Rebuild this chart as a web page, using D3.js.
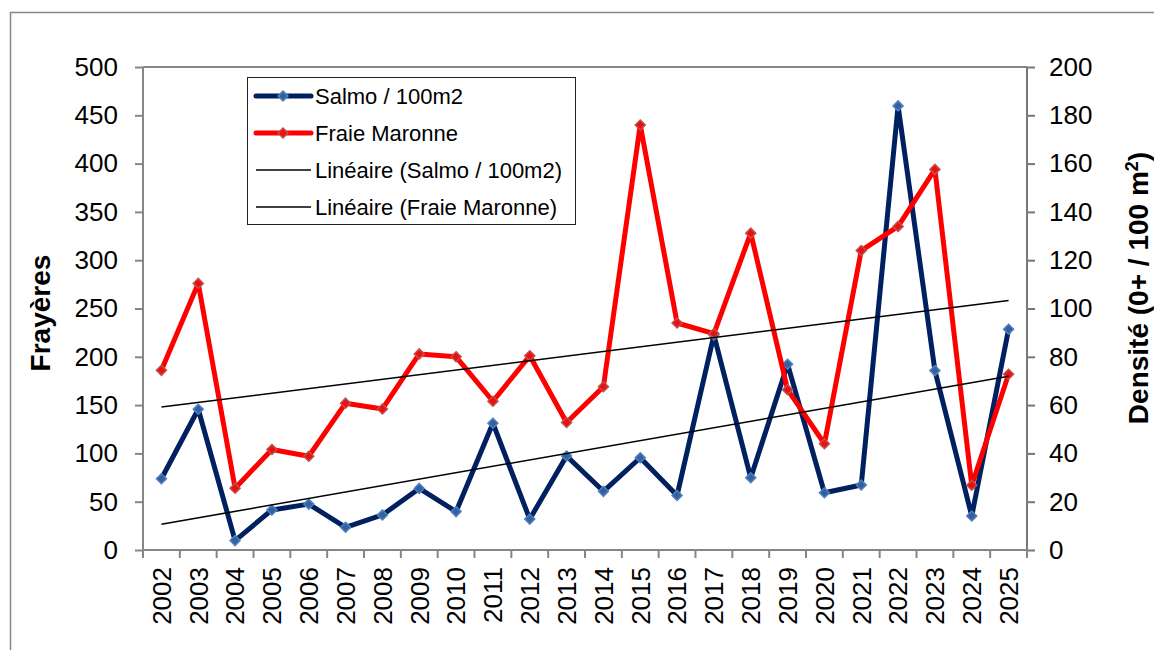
<!DOCTYPE html>
<html>
<head>
<meta charset="utf-8">
<script src="https://cdn.jsdelivr.net/npm/d3@7"></script>
<style>
  body { margin: 0; background: #fff; }
  svg { display: block; font-family: "Liberation Sans", Arial, sans-serif; }
</style>
</head>
<body>
<script>
const years = ["2002","2003","2004","2005","2006","2007","2008","2009","2010","2011","2012","2013",
               "2014","2015","2016","2017","2018","2019","2020","2021","2022","2023","2024","2025"];
// densite 0+ / 100 m2 (axe droit)
const salmo = [29.5,58.3,3.9,16.6,19,9.4,14.5,25.5,15.9,52.5,12.8,38.9,
               24.3,38.2,22.6,89,29.9,76.9,23.7,26.9,183.9,74.3,14.1,91.4];
// frayeres (axe gauche)
const fraie = [186,276,64,104,97,152,146,203,200,154,201,132,
               169,440,235,224,328,166,110,310,335,394,67,182];
const leftTicks = [0,50,100,150,200,250,300,350,400,450,500];
const rightTicks = [0,20,40,60,80,100,120,140,160,180,200];
const legendLabels = ["Salmo / 100m2","Fraie Maronne","Linéaire (Salmo / 100m2)","Linéaire (Fraie Maronne)"];

const width = 1154, height = 650;
const plot = {left: 143, right: 1027, top: 67, bottom: 550};
const gray = "#868686";

const svg = d3.select("body").append("svg")
    .attr("width", width)
    .attr("height", height);

// outer chart frame (runs off the right / bottom edges)
svg.append("rect")
    .attr("x", 10.5).attr("y", 12.5)
    .attr("width", 1200).attr("height", 700)
    .attr("fill", "none").attr("stroke", gray).attr("stroke-width", 1.5);

const x = d3.scaleBand().domain(years).range([plot.left, plot.right]);
const yL = d3.scaleLinear().domain([0, 500]).range([plot.bottom, plot.top]);
const yR = d3.scaleLinear().domain([0, 200]).range([plot.bottom, plot.top]);
const cx = d => x(d) + x.bandwidth() / 2;

// plot area top border
svg.append("line")
    .attr("x1", plot.left).attr("x2", plot.right)
    .attr("y1", plot.top).attr("y2", plot.top)
    .attr("stroke", gray).attr("stroke-width", 2);

// left axis
const gL = svg.append("g")
    .attr("transform", `translate(${plot.left},0)`)
    .call(d3.axisLeft(yL).tickValues(leftTicks).tickSize(8).tickPadding(17));
gL.selectAll("path, line").attr("stroke", gray).attr("stroke-width", 2);
gL.select(".domain").attr("d", `M0,${plot.top}V${plot.bottom}`);
gL.selectAll("text").attr("font-size", 26).attr("fill", "#000")
    .attr("font-family", "Liberation Sans, Arial, sans-serif");

// right axis
const gR = svg.append("g")
    .attr("transform", `translate(${plot.right},0)`)
    .call(d3.axisRight(yR).tickValues(rightTicks).tickSize(8).tickPadding(14));
gR.selectAll("path, line").attr("stroke", "#777").attr("stroke-width", 2);
gR.select(".domain").attr("d", `M0,${plot.top}V${plot.bottom}`);
gR.selectAll("text").attr("font-size", 26).attr("fill", "#000")
    .attr("font-family", "Liberation Sans, Arial, sans-serif");

// bottom axis: labels at band centres, ticks at band edges
const gB = svg.append("g")
    .attr("transform", `translate(0,${plot.bottom})`)
    .call(d3.axisBottom(x).tickSize(0).tickPadding(0));
gB.select(".domain").remove();
gB.selectAll("text")
    .attr("font-size", 26).attr("fill", "#000")
    .attr("font-family", "Liberation Sans, Arial, sans-serif")
    .attr("text-anchor", "end")
    .attr("transform", "translate(0,17) rotate(-90)")
    .attr("x", 0).attr("y", 0).attr("dy", "0.36em");
gB.append("line")
    .attr("x1", plot.left).attr("x2", plot.right)
    .attr("stroke", gray).attr("stroke-width", 2);
gB.selectAll(".edge")
    .data(years.map(x).concat([plot.right]))
    .join("line")
    .attr("class", "edge")
    .attr("x1", d => d).attr("x2", d => d)
    .attr("y1", 0).attr("y2", 8)
    .attr("stroke", gray).attr("stroke-width", 2);

// axis titles
svg.append("text")
    .attr("transform", `translate(50,313) rotate(-90)`)
    .attr("text-anchor", "middle")
    .attr("font-size", 28).attr("font-weight", "bold")
    .text("Frayères");
const rt = svg.append("text")
    .attr("transform", `translate(1148,288) rotate(-90)`)
    .attr("text-anchor", "middle")
    .attr("font-size", 28).attr("font-weight", "bold");
rt.append("tspan").text("Densité (0+ / 100 m");
rt.append("tspan").attr("font-size", 18).attr("dy", -10).text("2");
rt.append("tspan").attr("dy", 10).text(")");

// diamond marker path
const diamond = r => `M0,${-r}L${r},0L0,${r}L${-r},0Z`;

const series = [
  {values: salmo, y: yR, line: "#002060", mFill: "#33619f", mStroke: "#4f81bd"},
  {values: fraie, y: yL, line: "#ff0000", mFill: "#e81010", mStroke: "#c0504d"}
];

series.forEach(s => {
  const line = d3.line()
      .x((d, i) => cx(years[i]))
      .y(d => s.y(d));
  svg.append("path")
      .datum(s.values)
      .attr("d", line)
      .attr("fill", "none")
      .attr("stroke", s.line)
      .attr("stroke-width", 5)
      .attr("stroke-linejoin", "round");
  svg.append("g").selectAll("path")
      .data(s.values)
      .join("path")
      .attr("transform", (d, i) => `translate(${cx(years[i])},${s.y(d)})`)
      .attr("d", diamond(5))
      .attr("fill", s.mFill)
      .attr("stroke", s.mStroke)
      .attr("stroke-width", 1.5);
});

// linear trend lines (least squares on index)
const trend = vals => {
  const n = vals.length;
  const xs = d3.range(n);
  const mx = d3.mean(xs), my = d3.mean(vals);
  const b = d3.sum(xs, (xi, i) => (xi - mx) * (vals[i] - my)) / d3.sum(xs, xi => (xi - mx) ** 2);
  const a = my - b * mx;
  return [a, a + b * (n - 1)];
};
series.forEach(s => {
  const [y0, y1] = trend(s.values);
  svg.append("line")
      .attr("x1", cx(years[0])).attr("x2", cx(years[years.length - 1]))
      .attr("y1", s.y(y0)).attr("y2", s.y(y1))
      .attr("stroke", "#000").attr("stroke-width", 1.5);
});

// legend
const lg = svg.append("g");
lg.append("rect")
    .attr("x", 247.5).attr("y", 77.5)
    .attr("width", 328).attr("height", 147)
    .attr("fill", "#fff").attr("stroke", "#222").attr("stroke-width", 1);
const rowY = d3.scalePoint().domain(legendLabels).range([96, 207]);
legendLabels.forEach((lab, i) => {
  const yy = rowY(lab);
  const s = series[i];
  lg.append("line")
      .attr("x1", 256).attr("x2", 311)
      .attr("y1", yy).attr("y2", yy)
      .attr("stroke", i < 2 ? s.line : "#000")
      .attr("stroke-width", i < 2 ? 5 : 1.5)
      .attr("stroke-linecap", i < 2 ? "round" : "butt");
  if (i < 2) {
    lg.append("path")
        .attr("transform", `translate(283,${yy})`)
        .attr("d", diamond(5))
        .attr("fill", s.mFill)
        .attr("stroke", s.mStroke)
        .attr("stroke-width", 1.5);
  }
  lg.append("text")
      .attr("x", 315).attr("y", yy)
      .attr("dy", "0.36em")
      .attr("font-size", 22)
      .text(lab);
});
</script>
</body>
</html>
